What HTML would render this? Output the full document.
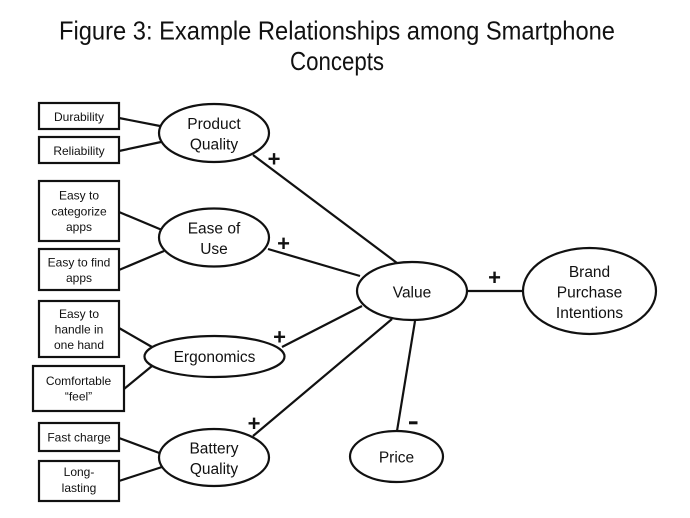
<!DOCTYPE html>
<html>
<head>
<meta charset="utf-8">
<style>
html,body{margin:0;padding:0;background:#fff;}
svg{display:block;}
text{font-family:"Liberation Sans",sans-serif;fill:#111;}
.b{font-size:12px;}
.e{font-size:15.5px;}
.p{font-size:22px;font-weight:bold;}
</style>
</head>
<body>
<svg width="690" height="518" viewBox="0 0 690 518" xmlns="http://www.w3.org/2000/svg">
<rect width="690" height="518" fill="#fff"/>
<text x="59" y="39.5" font-size="26" textLength="556" lengthAdjust="spacingAndGlyphs">Figure 3: Example Relationships among Smartphone</text>
<text x="290" y="70" font-size="26" textLength="94" lengthAdjust="spacingAndGlyphs">Concepts</text>

<g stroke="#111" stroke-width="2.2" fill="none">
<line x1="119" y1="118" x2="160" y2="126"/>
<line x1="119" y1="151" x2="161" y2="142"/>
<line x1="119" y1="212" x2="162" y2="230"/>
<line x1="119" y1="270" x2="164" y2="251"/>
<line x1="119" y1="328" x2="152" y2="347"/>
<line x1="124" y1="389" x2="152" y2="366"/>
<line x1="119" y1="438" x2="162" y2="454"/>
<line x1="119" y1="481" x2="162" y2="467"/>
<line x1="253" y1="155" x2="397" y2="263"/>
<line x1="268" y1="249" x2="360" y2="276"/>
<line x1="282" y1="347" x2="362" y2="306"/>
<line x1="253" y1="436" x2="392" y2="319"/>
<line x1="467" y1="291" x2="523" y2="291"/>
<line x1="415" y1="321" x2="397" y2="431"/>

<rect x="39" y="103" width="80" height="26"/>
<rect x="39" y="137" width="80" height="26"/>
<rect x="39" y="181" width="80" height="60"/>
<rect x="39" y="249" width="80" height="41"/>
<rect x="39" y="301" width="80" height="56"/>
<rect x="33" y="366" width="91" height="45"/>
<rect x="39" y="423" width="80" height="28"/>
<rect x="39" y="461" width="80" height="40"/>

<ellipse cx="214" cy="133" rx="55" ry="29" fill="#fff"/>
<ellipse cx="214" cy="237.5" rx="55" ry="29" fill="#fff"/>
<ellipse cx="214.5" cy="356.5" rx="70" ry="20.5" fill="#fff"/>
<ellipse cx="214" cy="457.5" rx="55" ry="28.5" fill="#fff"/>
<ellipse cx="412" cy="291" rx="55" ry="29" fill="#fff"/>
<ellipse cx="589.5" cy="291" rx="66.5" ry="43" fill="#fff"/>
<ellipse cx="396.5" cy="456.5" rx="46.5" ry="25.5" fill="#fff"/>
</g>

<g class="b" text-anchor="middle">
<text x="79" y="121">Durability</text>
<text x="79" y="155">Reliability</text>
<text x="79" y="199.5">Easy to</text>
<text x="79" y="215.5">categorize</text>
<text x="79" y="231">apps</text>
<text x="79" y="266.5">Easy to find</text>
<text x="79" y="282">apps</text>
<text x="79" y="318">Easy to</text>
<text x="79" y="333.5">handle in</text>
<text x="79" y="349">one hand</text>
<text x="78.5" y="385">Comfortable</text>
<text x="78.5" y="400.5">“feel”</text>
<text x="79" y="441.5">Fast charge</text>
<text x="79" y="476">Long-</text>
<text x="79" y="492">lasting</text>
</g>

<g class="e" text-anchor="middle">
<text x="214" y="129">Product</text>
<text x="214" y="149.5">Quality</text>
<text x="214" y="233.5">Ease of</text>
<text x="214" y="254">Use</text>
<text x="214.5" y="362">Ergonomics</text>
<text x="214" y="453.5">Battery</text>
<text x="214" y="474">Quality</text>
<text x="412" y="297.5">Value</text>
<text x="589.5" y="277">Brand</text>
<text x="589.5" y="297.5">Purchase</text>
<text x="589.5" y="318">Intentions</text>
<text x="396.5" y="462.5">Price</text>
</g>

<g class="p" text-anchor="middle">
<text x="274" y="166.5">+</text>
<text x="283.5" y="251">+</text>
<text x="279.5" y="344.5">+</text>
<text x="254" y="431">+</text>
<text x="494.5" y="285">+</text>
</g>
<rect x="409" y="421.3" width="8.5" height="3" fill="#111"/>
</svg>
</body>
</html>
